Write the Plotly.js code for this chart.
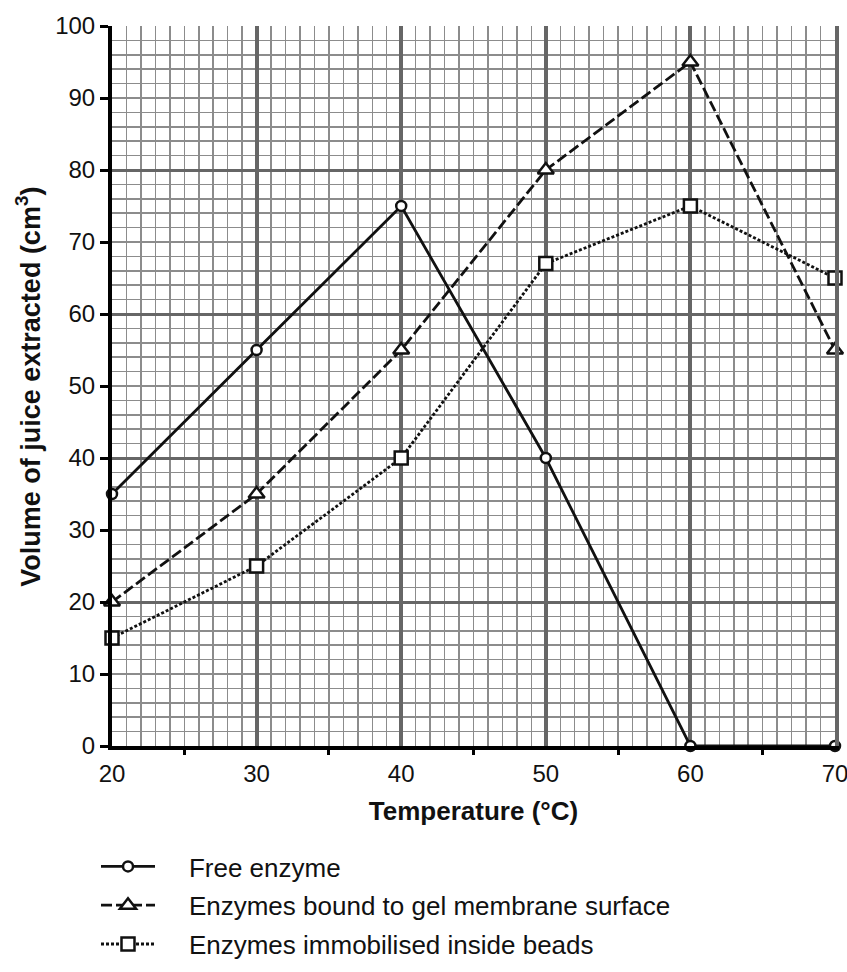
<!DOCTYPE html>
<html>
<head>
<meta charset="utf-8">
<script src="https://cdn.plot.ly/plotly-3.0.1.min.js"></script>
<style>
  html, body { margin: 0; padding: 0; background: #fff; }
  #chart { width: 847px; height: 972px; }
</style>
</head>
<body>
<div id="chart"></div>
<script>
// ---- data ----
var temperature = [20, 30, 40, 50, 60, 70];
var freeEnzyme = [35, 55, 75, 40, 0, 0];
var gelBound = [20, 35, 55, 80, 95, 55];
var beadImmobilised = [15, 25, 40, 67, 75, 65];

var seriesNames = [
  'Free enzyme',
  'Enzymes bound to gel membrane surface',
  'Enzymes immobilised inside beads'
];
var xTickVals = [20, 30, 40, 50, 60, 70];
var xMidTickVals = [25, 35, 45, 55, 65];
var yTickVals = [0, 10, 20, 30, 40, 50, 60, 70, 80, 90, 100];
var xTitle = '<b>Temperature (°C)</b>';
var yTitle = '<b>Volume of juice extracted (cm<sup>3</sup>)</b>';

var FONT = '"Liberation Sans", Arial, Helvetica, sans-serif';
var pad = '\u00A0\u00A0\u00A0\u00A0';

function series(y, name, dash, symbol, msize, group) {
  return {
    x: temperature, y: y, name: pad + name, type: 'scatter', mode: 'lines+markers',
    legendgroup: group,
    cliponaxis: false,
    line: {color: '#111', width: 2.8, dash: dash},
    marker: {symbol: symbol, size: msize, color: '#fff', line: {color: '#111', width: 2.5}}
  };
}

var traces = [
  series(freeEnzyme, seriesNames[0], 'solid', 'circle', 10, 'a'),
  series(gelBound, seriesNames[1], '11px,4px', 'triangle-up', 14, 'b'),
  series(beadImmobilised, seriesNames[2], '3px,2px', 'square', 13, 'c')
];

var layout = {
  width: 847, height: 972,
  paper_bgcolor: '#fff', plot_bgcolor: '#fff',
  margin: {l: 112, r: 12, t: 26, b: 226, autoexpand: false},
  font: {family: FONT, color: '#111', size: 24},
  showlegend: true,
  legend: {
    xref: 'container', yref: 'container',
    x: 96 / 847, y: 1 - 843 / 972, xanchor: 'left', yanchor: 'top',
    font: {family: FONT, size: 26, color: '#111'},
    itemwidth: 54, tracegroupgap: 2,
    bgcolor: 'rgba(0,0,0,0)'
  },
  xaxis: {
    range: [20, 70],
    tickvals: xTickVals, ticktext: xTickVals.map(String),
    ticks: '', ticklabelstandoff: 3, ticklabeloverflow: 'allow',
    tickfont: {family: FONT, size: 24, color: '#111'},
    showgrid: true, gridcolor: '#666', gridwidth: 4,
    minor: {dtick: 1, tick0: 20, showgrid: true, gridcolor: '#8c8c8c', gridwidth: 1.5},
    showline: true, linecolor: '#000', linewidth: 4,
    zeroline: false,
    title: {text: xTitle, font: {family: FONT, size: 26, color: '#111'}, standoff: 17}
  },
  xaxis2: {
    overlaying: 'x', anchor: 'y', side: 'bottom',
    range: [20, 70],
    tickvals: xMidTickVals, showticklabels: false,
    ticks: 'outside', ticklen: 8, tickwidth: 3, tickcolor: '#000',
    showgrid: false, showline: false, zeroline: false
  },
  yaxis: {
    range: [0, 100],
    tickvals: yTickVals, ticktext: yTickVals.map(String),
    ticks: 'outside', ticklen: 8, tickwidth: 3, tickcolor: '#000',
    tickfont: {family: FONT, size: 24, color: '#111'},
    showgrid: false,
    showline: true, linecolor: '#000', linewidth: 4,
    zeroline: false
  },
  yaxis2: {
    overlaying: 'y', anchor: 'x', side: 'right',
    range: [0, 100],
    dtick: 20, tick0: 0,
    showticklabels: false, ticks: '',
    showgrid: true, gridcolor: '#666', gridwidth: 3,
    minor: {dtick: 2, tick0: 0, showgrid: true, gridcolor: '#8c8c8c', gridwidth: 1.5},
    showline: true, linecolor: '#666', linewidth: 4, zeroline: false
  },
  annotations: [{
    text: yTitle, xref: 'paper', yref: 'paper',
    x: (28 - 112) / 723, y: 0.499, xanchor: 'center', yanchor: 'middle',
    textangle: -90, showarrow: false,
    font: {family: FONT, size: 27, color: '#111'}
  }]
};

// invisible helper trace so the overlay axes are drawn
traces.unshift({x: [null], y: [null], xaxis: 'x2', yaxis: 'y2', showlegend: false, hoverinfo: 'skip', type: 'scatter', mode: 'lines'});

Plotly.newPlot('chart', traces, layout, {displayModeBar: false, staticPlot: true});
</script>
</body>
</html>
